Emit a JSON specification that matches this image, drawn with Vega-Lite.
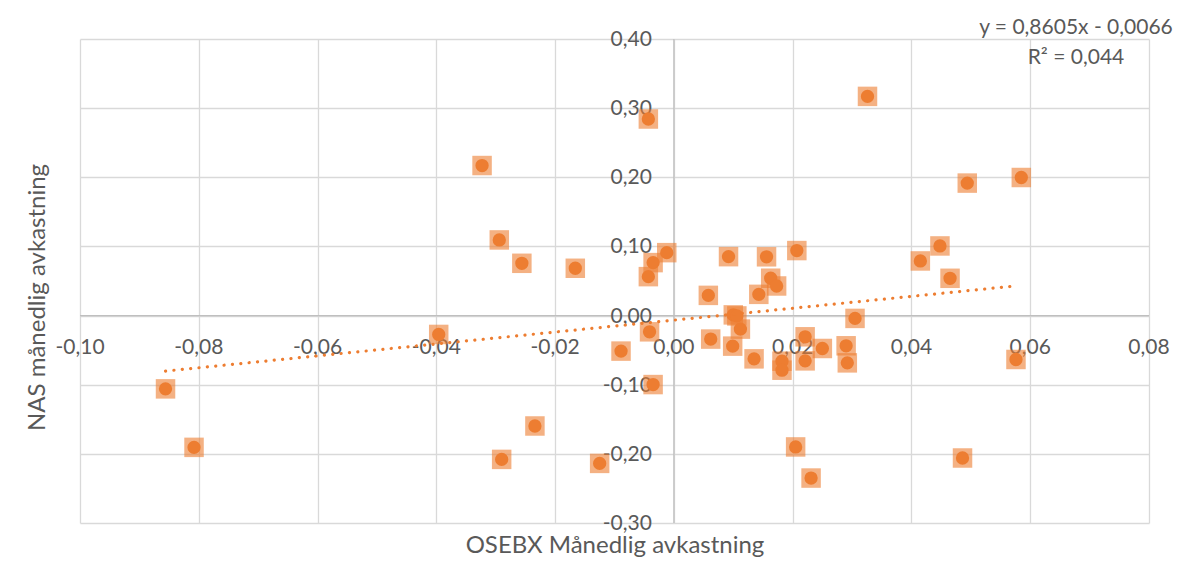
{
  "$schema": "https://vega.github.io/schema/vega-lite/v6.json",
  "width": 1069,
  "height": 484,
  "autosize": {"type": "none"},
  "padding": {"left": 80, "top": 39, "right": 46, "bottom": 62},
  "background": "white",
  "config": {
    "view": {"stroke": null},
    "font": "Lato",
    "axis": {
      "grid": true,
      "gridColor": "#D9D9D9",
      "gridWidth": 1.3,
      "labels": false,
      "ticks": false,
      "domain": false,
      "titleFont": "Lato",
      "titleFontSize": 24,
      "titleFontWeight": "normal",
      "titleColor": "#595959"
    },
    "axisX": {"titlePadding": 10},
    "axisY": {"titlePadding": 31}
  },
  "datasets": {
    "returns": [
      {"osebx": -0.0856, "nas": -0.106},
      {"osebx": -0.0808, "nas": -0.1906},
      {"osebx": -0.0396, "nas": -0.0273},
      {"osebx": -0.0323, "nas": 0.217},
      {"osebx": -0.0294, "nas": 0.1094},
      {"osebx": -0.0256, "nas": 0.0756},
      {"osebx": -0.0166, "nas": 0.0684},
      {"osebx": -0.029, "nas": -0.208},
      {"osebx": -0.0234, "nas": -0.1597},
      {"osebx": -0.0125, "nas": -0.2138},
      {"osebx": -0.0089, "nas": -0.0514},
      {"osebx": -0.0043, "nas": 0.2843},
      {"osebx": -0.0043, "nas": 0.0563},
      {"osebx": -0.0035, "nas": 0.0766},
      {"osebx": -0.0012, "nas": 0.091},
      {"osebx": -0.0041, "nas": -0.0235},
      {"osebx": -0.0035, "nas": -0.0998},
      {"osebx": 0.0058, "nas": 0.0292},
      {"osebx": 0.0062, "nas": -0.034},
      {"osebx": 0.0092, "nas": 0.0852},
      {"osebx": 0.0099, "nas": -0.0442},
      {"osebx": 0.01, "nas": 0.001},
      {"osebx": 0.0106, "nas": -0.0005},
      {"osebx": 0.0112, "nas": -0.0196},
      {"osebx": 0.0135, "nas": -0.0626},
      {"osebx": 0.0143, "nas": 0.0307},
      {"osebx": 0.0156, "nas": 0.085},
      {"osebx": 0.0163, "nas": 0.054},
      {"osebx": 0.0173, "nas": 0.0428},
      {"osebx": 0.0182, "nas": -0.066},
      {"osebx": 0.0182, "nas": -0.079},
      {"osebx": 0.0207, "nas": 0.094},
      {"osebx": 0.0205, "nas": -0.19},
      {"osebx": 0.0221, "nas": -0.0307},
      {"osebx": 0.0221, "nas": -0.0655},
      {"osebx": 0.025, "nas": -0.0476},
      {"osebx": 0.0231, "nas": -0.235},
      {"osebx": 0.029, "nas": -0.0437},
      {"osebx": 0.0292, "nas": -0.0684},
      {"osebx": 0.0305, "nas": -0.0041},
      {"osebx": 0.0326, "nas": 0.317},
      {"osebx": 0.0415, "nas": 0.079},
      {"osebx": 0.0448, "nas": 0.1007},
      {"osebx": 0.0465, "nas": 0.0539},
      {"osebx": 0.0486, "nas": -0.206},
      {"osebx": 0.0494, "nas": 0.1916},
      {"osebx": 0.0576, "nas": -0.0635},
      {"osebx": 0.0585, "nas": 0.1997}
    ],
    "trend": [
      {"osebx": -0.0856, "nas": -0.0803},
      {"osebx": 0.0578, "nas": 0.0431}
    ],
    "xticks": [
      {"osebx": -0.1, "label": "-0,10"},
      {"osebx": -0.08, "label": "-0,08"},
      {"osebx": -0.06, "label": "-0,06"},
      {"osebx": -0.04, "label": "-0,04"},
      {"osebx": -0.02, "label": "-0,02"},
      {"osebx": 0, "label": "0,00"},
      {"osebx": 0.02, "label": "0,02"},
      {"osebx": 0.04, "label": "0,04"},
      {"osebx": 0.06, "label": "0,06"},
      {"osebx": 0.08, "label": "0,08"}
    ],
    "yticks": [
      {"nas": 0.4, "label": "0,40"},
      {"nas": 0.3, "label": "0,30"},
      {"nas": 0.2, "label": "0,20"},
      {"nas": 0.1, "label": "0,10"},
      {"nas": 0, "label": "0,00"},
      {"nas": -0.1, "label": "-0,10"},
      {"nas": -0.2, "label": "-0,20"},
      {"nas": -0.3, "label": "-0,30"}
    ]
  },
  "layer": [
    {
      "data": {"name": "xticks"},
      "mark": {"type": "rule", "color": "#BFBFBF", "strokeWidth": 1.3},
      "transform": [{"filter": "datum.osebx === 0"}],
      "encoding": {
        "x": {
          "field": "osebx", "type": "quantitative",
          "title": "OSEBX Månedlig avkastning",
          "scale": {"domain": [-0.1, 0.08], "nice": false, "zero": false},
          "axis": {"values": [-0.1, -0.08, -0.06, -0.04, -0.02, 0, 0.02, 0.04, 0.06, 0.08]}
        }
      }
    },
    {
      "data": {"name": "yticks"},
      "mark": {"type": "rule", "color": "#BFBFBF", "strokeWidth": 1.3},
      "transform": [{"filter": "datum.nas === 0"}],
      "encoding": {
        "y": {
          "field": "nas", "type": "quantitative",
          "title": "NAS månedlig avkastning",
          "scale": {"domain": [-0.3, 0.4], "nice": false, "zero": false},
          "axis": {"values": [-0.3, -0.2, -0.1, 0, 0.1, 0.2, 0.3, 0.4], "titleY": 258}
        }
      }
    },
    {
      "data": {"name": "xticks"},
      "mark": {"type": "text", "font": "Lato", "fontSize": 21, "color": "#595959", "align": "center", "baseline": "middle", "dy": 32},
      "encoding": {
        "x": {"field": "osebx", "type": "quantitative", "title": "OSEBX Månedlig avkastning", "scale": {"domain": [-0.1, 0.08], "nice": false, "zero": false}},
        "y": {"datum": 0, "type": "quantitative", "scale": {"domain": [-0.3, 0.4], "nice": false, "zero": false}},
        "text": {"field": "label"}
      }
    },
    {
      "data": {"name": "yticks"},
      "mark": {"type": "text", "font": "Lato", "fontSize": 21, "color": "#595959", "align": "right", "baseline": "middle", "dx": -22, "dy": 1},
      "encoding": {
        "x": {"datum": 0, "type": "quantitative", "scale": {"domain": [-0.1, 0.08], "nice": false, "zero": false}},
        "y": {"field": "nas", "type": "quantitative", "title": "NAS månedlig avkastning", "scale": {"domain": [-0.3, 0.4], "nice": false, "zero": false}},
        "text": {"field": "label"}
      }
    },
    {
      "data": {"name": "returns"},
      "mark": {"type": "square", "size": 380, "color": "#ED7D31", "opacity": 0.6, "filled": true, "strokeWidth": 0},
      "encoding": {
        "x": {"field": "osebx", "type": "quantitative", "title": "OSEBX Månedlig avkastning", "scale": {"domain": [-0.1, 0.08], "nice": false, "zero": false}},
        "y": {"field": "nas", "type": "quantitative", "title": "NAS månedlig avkastning", "scale": {"domain": [-0.3, 0.4], "nice": false, "zero": false}}
      }
    },
    {
      "data": {"name": "returns"},
      "mark": {"type": "circle", "size": 177, "color": "#ED7D31", "opacity": 1},
      "encoding": {
        "x": {"field": "osebx", "type": "quantitative", "title": "OSEBX Månedlig avkastning", "scale": {"domain": [-0.1, 0.08], "nice": false, "zero": false}},
        "y": {"field": "nas", "type": "quantitative", "title": "NAS månedlig avkastning", "scale": {"domain": [-0.3, 0.4], "nice": false, "zero": false}}
      }
    },
    {
      "data": {"name": "trend"},
      "mark": {"type": "line", "color": "#ED7D31", "strokeWidth": 3.2, "strokeDash": [0.1, 8.3], "strokeCap": "round"},
      "encoding": {
        "x": {"field": "osebx", "type": "quantitative", "title": "OSEBX Månedlig avkastning", "scale": {"domain": [-0.1, 0.08], "nice": false, "zero": false}},
        "y": {"field": "nas", "type": "quantitative", "title": "NAS månedlig avkastning", "scale": {"domain": [-0.3, 0.4], "nice": false, "zero": false}}
      }
    },
    {
      "data": {"values": [{"equation": "y = 0,8605x - 0,0066", "fit": "R² = 0,044"}]},
      "mark": {"type": "text", "font": "Lato", "fontSize": 21, "color": "#595959", "align": "center", "baseline": "middle", "lineHeight": 30},
      "encoding": {
        "x": {"datum": 0.0677, "type": "quantitative", "scale": {"domain": [-0.1, 0.08], "nice": false, "zero": false}},
        "y": {"datum": 0.4152, "type": "quantitative", "scale": {"domain": [-0.3, 0.4], "nice": false, "zero": false}},
        "text": {"value": ["y = 0,8605x - 0,0066", "R² = 0,044"]}
      }
    }
  ]
}
